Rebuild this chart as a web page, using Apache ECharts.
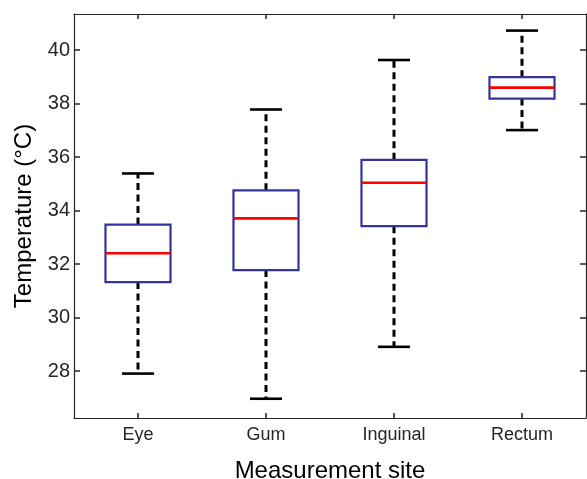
<!DOCTYPE html>
<html>
<head>
<meta charset="utf-8">
<script src="https://cdn.jsdelivr.net/npm/echarts@6/dist/echarts.min.js"></script>
<style>
html,body{margin:0;padding:0;background:#fff;}
#chart{width:587px;height:479px;}
</style>
</head>
<body>
<div id="chart"></div>
<script>
const categories = ['Eye', 'Gum', 'Inguinal', 'Rectum'];
const lowerWhisker = [27.91, 26.97, 28.91, 37.01];
const q1 = [31.33, 31.78, 33.42, 38.19];
const median = [32.41, 33.71, 35.04, 38.60];
const q3 = [33.48, 34.76, 35.90, 38.99];
const upperWhisker = [35.39, 37.78, 39.63, 40.73];
const yTicks = [28, 30, 32, 34, 36, 38, 40];

const boxData = categories.map((c, i) => [i, lowerWhisker[i], q1[i], median[i], q3[i], upperWhisker[i]]);

const FONT = '"Liberation Sans", Arial, sans-serif';
const AXIS_COLOR = '#262626';
const BOX_COLOR = '#333399';

function renderItem(params, api) {
  const xi = api.value(0);
  const pLow = api.coord([xi, api.value(1)]);
  const pQ1 = api.coord([xi, api.value(2)]);
  const pMed = api.coord([xi, api.value(3)]);
  const pQ3 = api.coord([xi, api.value(4)]);
  const pHigh = api.coord([xi, api.value(5)]);
  const band = api.size([1, 0])[0];
  const cx = pMed[0];
  const boxHalf = band * 0.254;
  const capHalf = band * 0.125;
  const dashStyle = { stroke: '#000', lineWidth: 3, lineDash: [7, 4.5], fill: null };
  const capStyle = { stroke: '#000', lineWidth: 2.6, fill: null };
  return {
    type: 'group',
    children: [
      { type: 'line', shape: { x1: cx, y1: pQ3[1], x2: cx, y2: pHigh[1] }, style: dashStyle },
      { type: 'line', shape: { x1: cx, y1: pQ1[1], x2: cx, y2: pLow[1] }, style: dashStyle },
      { type: 'line', shape: { x1: cx - capHalf, y1: pHigh[1], x2: cx + capHalf, y2: pHigh[1] }, style: capStyle },
      { type: 'line', shape: { x1: cx - capHalf, y1: pLow[1], x2: cx + capHalf, y2: pLow[1] }, style: capStyle },
      { type: 'rect', shape: { x: cx - boxHalf, y: pQ3[1], width: boxHalf * 2, height: pQ1[1] - pQ3[1] },
        style: { fill: '#fff', stroke: BOX_COLOR, lineWidth: 2.2 } },
      { type: 'line', shape: { x1: cx - boxHalf, y1: pMed[1], x2: cx + boxHalf, y2: pMed[1] },
        style: { stroke: '#ff0000', lineWidth: 2.6 } }
    ]
  };
}

const chart = echarts.init(document.getElementById('chart'), null, { renderer: 'canvas' });
chart.setOption({
  backgroundColor: '#fff',
  animation: false,
  grid: { left: 74, right: 1, top: 14, bottom: 61, containLabel: false, outerBoundsMode: 'none' },
  xAxis: [
    {
      type: 'category', data: categories, position: 'bottom', boundaryGap: true,
      axisLine: { show: true, lineStyle: { color: AXIS_COLOR, width: 1.2 } },
      axisTick: { show: true, inside: true, alignWithLabel: true, length: 5, lineStyle: { color: AXIS_COLOR, width: 1.5 } },
      axisLabel: { show: true, margin: 8, fontFamily: FONT, fontSize: 18, color: AXIS_COLOR },
      splitLine: { show: false },
      name: 'Measurement site', nameLocation: 'middle', nameGap: 41,
      nameTextStyle: { fontFamily: FONT, fontSize: 24, color: '#000' }
    },
    {
      type: 'category', data: categories, position: 'top', boundaryGap: true,
      axisLine: { show: true, lineStyle: { color: AXIS_COLOR, width: 1.2 } },
      axisTick: { show: true, inside: true, alignWithLabel: true, length: 5, lineStyle: { color: AXIS_COLOR, width: 1.5 } },
      axisLabel: { show: false }, splitLine: { show: false }
    }
  ],
  yAxis: [
    {
      type: 'value', position: 'left', min: 26.25, max: 41.35, scale: true,
      axisLine: { show: true, lineStyle: { color: AXIS_COLOR, width: 1.2 } },
      axisTick: { show: true, inside: true, length: 6, customValues: yTicks, lineStyle: { color: AXIS_COLOR, width: 1.5 } },
      axisLabel: { show: true, margin: 4, customValues: yTicks, fontFamily: FONT, fontSize: 20, color: AXIS_COLOR },
      splitLine: { show: false },
      name: 'Temperature (°C)', nameLocation: 'middle', nameGap: 37, nameRotate: 90,
      nameTextStyle: { fontFamily: FONT, fontSize: 24, color: '#000' }
    },
    {
      type: 'value', position: 'right', min: 26.25, max: 41.35, scale: true,
      axisLine: { show: true, lineStyle: { color: AXIS_COLOR, width: 1.2 } },
      axisTick: { show: true, inside: true, length: 6, customValues: yTicks, lineStyle: { color: AXIS_COLOR, width: 1.5 } },
      axisLabel: { show: false, customValues: yTicks },
      splitLine: { show: false }
    }
  ],
  series: [
    {
      type: 'custom',
      xAxisIndex: 0, yAxisIndex: 0,
      renderItem: renderItem,
      encode: { x: 0, y: [1, 2, 3, 4, 5] },
      data: boxData,
      clip: false
    }
  ]
});
</script>
</body>
</html>
